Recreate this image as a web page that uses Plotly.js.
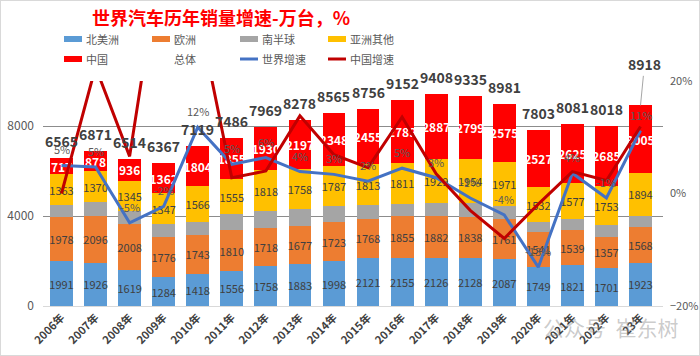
<!DOCTYPE html>
<html>
<head>
<meta charset="utf-8">
<script src="https://cdn.plot.ly/plotly-3.0.1.min.js"></script>
<style>
html,body{margin:0;padding:0;background:#fff;}
#wrap{position:relative;width:700px;height:356px;}
#chart{width:700px;height:356px;}
#frame{position:absolute;left:0;top:0;width:698px;height:354px;border:1px solid #D9D9D9;pointer-events:none;}
</style>
</head>
<body>
<div id="wrap"><div id="chart"></div><div id="frame"></div></div>
<script>
// ---- data ----
const years = ['2006年','2007年','2008年','2009年','2010年','2011年','2012年','2013年','2014年','2015年','2016年','2017年','2018年','2019年','2020年','2021年','2022年','23年'];
const northAmerica = [1991,1926,1619,1284,1418,1556,1758,1883,1998,2121,2155,2126,2128,2087,1749,1821,1701,1923];
const europe       = [1978,2096,2008,1776,1743,1810,1718,1677,1723,1768,1855,1882,1838,1761,1541,1539,1357,1568];
const southern     = [516,601,606,598,588,710,745,763,709,599,542,584,616,587,454,519,522,528];
const asiaOther    = [1363,1370,1345,1347,1566,1555,1818,1758,1787,1813,1811,1929,1954,1971,1532,1577,1753,1894];
const china        = [717,878,936,1362,1804,1855,1930,2197,2348,2455,2789,2887,2799,2575,2527,2625,2685,3005];
const total        = [6565,6871,6514,6367,7119,7486,7969,8278,8565,8756,9152,9408,9335,8981,7803,8081,8018,8918];
const worldGrowth  = [5.0,4.7,-5.2,-2.3,11.8,5.2,6.4,3.9,3.4,2.2,4.5,2.8,-0.8,-3.8,-13.1,3.6,-0.8,11.2];
const chinaGrowth  = [0.0,22.5,6.6,45.5,32.5,2.8,4.0,13.8,6.9,4.6,13.6,3.5,-3.0,-8.0,-1.9,3.9,2.3,11.9];
const worldGrowthLabels = ['5%','5%','-5%','-2%','12%','5%','6%','4%','3%','2%','5%','3%','-1%','-4%','-13%','4%','-1%','11%'];

// ---- styling ----
const W = 700, H = 356;
const M = {l:43, r:37, t:81, b:50};
const PW = W - M.l - M.r, PH = H - M.t - M.b;
const px = x => (x - M.l) / PW;
const py = y => (H - M.b - y) / PH;
const FONT = '"Noto Sans CJK SC", "Noto Sans", sans-serif';
const DARK = '#404040', GREY = '#595959';

const barSeries = [
  {name:'北美洲', values:northAmerica, color:'#5B9BD5', label:true, white:false},
  {name:'欧洲', values:europe, color:'#ED7D31', label:true, white:false},
  {name:'南半球', values:southern, color:'#A5A5A5', label:false, white:false},
  {name:'亚洲其他', values:asiaOther, color:'#FFC000', label:true, white:false},
  {name:'中国', values:china, color:'#FF0000', label:true, white:true}
];

const traces = barSeries.map(s => ({
  type:'bar', name:s.name, x:years, y:s.values,
  marker:{color:s.color},
  text: s.label ? s.values.map(String) : undefined,
  textposition: s.label ? 'inside' : 'none',
  insidetextanchor:'middle', textangle:0, constraintext:'none',
  textfont:{family:FONT, size: s.white ? 12 : 11, color: s.white ? '#FFFFFF' : DARK, weight: s.white ? 'bold' : 'normal'},
  hoverinfo:'x+y+name', showlegend:false
}));

traces.push({
  type:'scatter', mode:'lines', name:'世界增速', x:years, y:worldGrowth, yaxis:'y2',
  line:{color:'#4472C4', width:3}, cliponaxis:true, showlegend:false
});
traces.push({
  type:'scatter', mode:'lines', name:'中国增速', x:years, y:chinaGrowth, yaxis:'y2',
  line:{color:'#C00000', width:3}, cliponaxis:true, showlegend:false
});

const annotations = [];
// totals above bars
years.forEach((yr, i) => {
  const last = i === years.length - 1;
  annotations.push({
    x:yr, y:total[i], xref:'x', yref:'y', text:String(total[i]),
    showarrow:last, arrowhead:0, arrowwidth:1, arrowcolor:'#A6A6A6',
    ax: last ? 4 : 0, ay: last ? -41 : 0,
    yshift: last ? 0 : 17, yanchor:'middle',
    font:{family:FONT, size:14, color:DARK, weight:'bold'}
  });
});
// world growth labels
years.forEach((yr, i) => {
  annotations.push({
    x:yr, y:worldGrowth[i], xref:'x', yref:'y2', text:worldGrowthLabels[i],
    showarrow:false, yshift:16, yanchor:'middle',
    font:{family:FONT, size:11, color:GREY}
  });
});

// manual legend (Excel style)
const shapes = [];
const legendItems = [
  {name:'北美洲', kind:'bar', color:'#5B9BD5', col:0, row:0},
  {name:'欧洲', kind:'bar', color:'#ED7D31', col:1, row:0},
  {name:'南半球', kind:'bar', color:'#A5A5A5', col:2, row:0},
  {name:'亚洲其他', kind:'bar', color:'#FFC000', col:3, row:0},
  {name:'中国', kind:'bar', color:'#FF0000', col:0, row:1},
  {name:'总体', kind:'none', color:null, col:1, row:1},
  {name:'世界增速', kind:'line', color:'#4472C4', col:2, row:1},
  {name:'中国增速', kind:'line', color:'#C00000', col:3, row:1}
];
const colX = [64, 152, 240, 328], rowY = [39, 59];
legendItems.forEach(it => {
  const x0 = colX[it.col], yc = rowY[it.row];
  if (it.kind === 'bar') {
    shapes.push({type:'rect', xref:'paper', yref:'paper', x0:px(x0), x1:px(x0+18), y0:py(yc+3), y1:py(yc-3),
      fillcolor:it.color, line:{width:0}});
  } else if (it.kind === 'line') {
    shapes.push({type:'line', xref:'paper', yref:'paper', x0:px(x0), x1:px(x0+18), y0:py(yc), y1:py(yc),
      line:{color:it.color, width:3}});
  }
  annotations.push({xref:'paper', yref:'paper', x:px(x0+20), y:py(yc), xanchor:'left', yanchor:'middle',
    text:it.name, showarrow:false, font:{family:FONT, size:11, color:GREY}});
});

// watermark
annotations.push({xref:'paper', yref:'paper', x:px(610), y:py(327), xanchor:'center', yanchor:'middle',
  text:'公众号  崔东树', showarrow:false, font:{family:FONT, size:21, color:'rgba(140,140,140,0.45)'}});

const layout = {
  width:W, height:H,
  margin:{l:M.l, r:M.r, t:M.t, b:M.b, pad:0},
  paper_bgcolor:'#FFFFFF', plot_bgcolor:'#FFFFFF',
  title:{text:'世界汽车历年销量增速-万台，%', x:221/W, xanchor:'center', y:1-19/H, yanchor:'middle',
    font:{family:FONT, size:18, color:'#FF0000', weight:'bold'}},
  barmode:'stack', bargap:0.33,
  showlegend:false,
  xaxis:{type:'category', tickangle:-45, showline:true, linecolor:'#D9D9D9', linewidth:1,
    ticks:'', showgrid:false, tickfont:{family:FONT, size:11, color:DARK, weight:'bold'}},
  yaxis:{range:[0,10000], tick0:0, dtick:4000, tickformat:'d', showgrid:true, gridcolor:'#8C8C8C', gridwidth:1,
    zeroline:false, ticks:'', ticklabelstandoff:8, tickfont:{family:FONT, size:12, color:GREY}},
  yaxis2:{range:[-20,20], dtick:20, ticksuffix:'%', overlaying:'y', side:'right', showgrid:false,
    zeroline:false, ticks:'', ticklabelstandoff:6, tickfont:{family:FONT, size:11, color:GREY}},
  annotations:annotations, shapes:shapes,
  font:{family:FONT}
};

Plotly.newPlot('chart', traces, layout, {displayModeBar:false, staticPlot:true});
</script>
</body>
</html>
